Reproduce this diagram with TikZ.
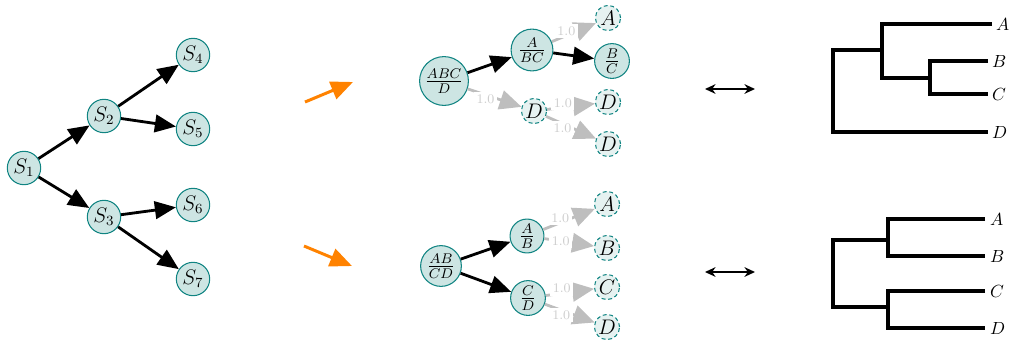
\documentclass[tikz,border=0pt]{standalone}
\usetikzlibrary{arrows.meta}
\definecolor{nodefill}{RGB}{205,229,227}
\definecolor{nodeedge}{RGB}{16,132,130}
\definecolor{ghostfill}{RGB}{230,242,241}
\definecolor{edgegray}{RGB}{190,190,190}
\definecolor{labelgray}{RGB}{205,205,205}
\definecolor{arrorange}{RGB}{255,130,0}
\begin{document}
\begin{tikzpicture}[x=0.02cm,y=-0.02cm,
  state/.style={circle, draw=nodeedge, fill=nodefill, line width=0.6pt,
    inner sep=0pt, minimum size=#1, font=\fontsize{11.5}{13}\selectfont},
  state/.default=19pt,
  ghost/.style={circle, draw=nodeedge, fill=ghostfill, line width=0.6pt,
    dash pattern=on 2.2pt off 1.6pt, inner sep=0pt, minimum size=14.3pt,
    font=\fontsize{11.5}{13}\selectfont},
  edge/.style={-{Triangle[length=12pt,width=10pt]}, line width=1.6pt, black},
  faint/.style={-{Triangle[length=12.5pt,width=11pt]}, line width=1.6pt, edgegray},
  wlabel/.style={pos=0.33, fill=white, inner sep=1.4pt, text=labelgray,
    font=\fontsize{7.5}{8}\selectfont},
  lup/.style={wlabel, yshift=2.6pt},
  ldown/.style={wlabel, yshift=-2.6pt},
  bigarrow/.style={-{Triangle[length=12.5pt,width=10.5pt]}, line width=1.7pt, arrorange},
  equiv/.style={{Stealth[length=6pt,width=5.5pt]}-{Stealth[length=6pt,width=5.5pt]}, line width=1.1pt},
  tree/.style={line width=2.3pt, line join=miter},
  leaf/.style={anchor=west, inner sep=1pt, font=\fontsize{10}{12}\selectfont}]
\useasboundingbox (0,0) rectangle (1010,342);

% state tree
\node[state] (s1) at (24,168) {$S_1$};
\node[state] (s2) at (104,116) {$S_2$};
\node[state] (s3) at (104,217) {$S_3$};
\node[state] (s4) at (193,55) {$S_4$};
\node[state] (s5) at (193,129) {$S_5$};
\node[state] (s6) at (193,205) {$S_6$};
\node[state] (s7) at (193,279) {$S_7$};
\draw[edge] (s1) -- (s2);
\draw[edge] (s1) -- (s3);
\draw[edge] (s2) -- (s4);
\draw[edge] (s2) -- (s5);
\draw[edge] (s3) -- (s6);
\draw[edge] (s3) -- (s7);

% orange arrows
\coordinate (o1a) at (305,102); \coordinate (o1b) at (353,82);
\coordinate (o2a) at (304,246); \coordinate (o2b) at (352,266);
\draw[bigarrow] (o1a) -- (o1b);
\draw[bigarrow] (o2a) -- (o2b);

% upper split tree
\node[state=27.8pt] (abcd) at (444,81) {$\frac{ABC}{D}$};
\node[state=23.8pt] (abc) at (532,50) {$\frac{A}{BC}$};
\node[state=19.8pt] (bc) at (612,61) {$\frac{B}{C}$};
\node[ghost] (ua) at (608,18) {$A$};
\node[ghost] (ud) at (534,111) {$D$};
\node[ghost] (ud1) at (608,102) {$D$};
\node[ghost] (ud2) at (608,144) {$D$};
\draw[edge] (abcd) -- (abc);
\draw[edge] (abc) -- (bc);
\draw[faint] (abc) -- node[lup] {1.0} (ua);
\draw[faint] (abcd) -- node[ldown] {1.0} (ud);
\draw[faint] (ud) -- node[lup] {1.0} (ud1);
\draw[faint] (ud) -- node[ldown] {1.0} (ud2);

% lower split tree
\node[state=23.2pt] (abcd2) at (441,266) {$\frac{AB}{CD}$};
\node[state=19.3pt] (ab) at (527,236) {$\frac{A}{B}$};
\node[state=19.8pt] (cd) at (528,298) {$\frac{C}{D}$};
\node[ghost] (la) at (607,204) {$A$};
\node[ghost] (lb) at (607,248) {$B$};
\node[ghost] (lc) at (607,287) {$C$};
\node[ghost] (ld) at (607,327) {$D$};
\draw[edge] (abcd2) -- (ab);
\draw[edge] (abcd2) -- (cd);
\draw[faint] (ab) -- node[lup] {1.0} (la);
\draw[faint] (ab) -- node[wlabel] {1.0} (lb);
\draw[faint] (cd) -- node[lup] {1.0} (lc);
\draw[faint] (cd) -- node[ldown] {1.0} (ld);

% equivalence arrows
\coordinate (e1a) at (705,89); \coordinate (e1b) at (755,89);
\coordinate (e2a) at (705,272); \coordinate (e2b) at (755,272);
\draw[equiv] (e1a) -- (e1b);
\draw[equiv] (e2a) -- (e2b);

% upper dendrogram
\draw[tree] (992,24) -| (882,78) -- (930,78);
\draw[tree] (988,61) -| (930,94) -- (988,94);
\draw[tree] (882,50) -- (833,50) |- (988,132);
\node[leaf] (ta) at (994,24) {$A$};
\node[leaf] (tb) at (990,61) {$B$};
\node[leaf] (tc) at (990,94) {$C$};
\node[leaf] (td) at (990,132) {$D$};

% lower dendrogram
\draw[tree] (985,219) -| (888,256) -- (985,256);
\draw[tree] (985,291) -| (888,328) -- (985,328);
\draw[tree] (888,240) -- (833,240) |- (888,307);
\node[leaf] (ba) at (988,219) {$A$};
\node[leaf] (bb) at (988,256) {$B$};
\node[leaf] (bc2) at (988,291) {$C$};
\node[leaf] (bd) at (988,328) {$D$};
\end{tikzpicture}
\end{document}
